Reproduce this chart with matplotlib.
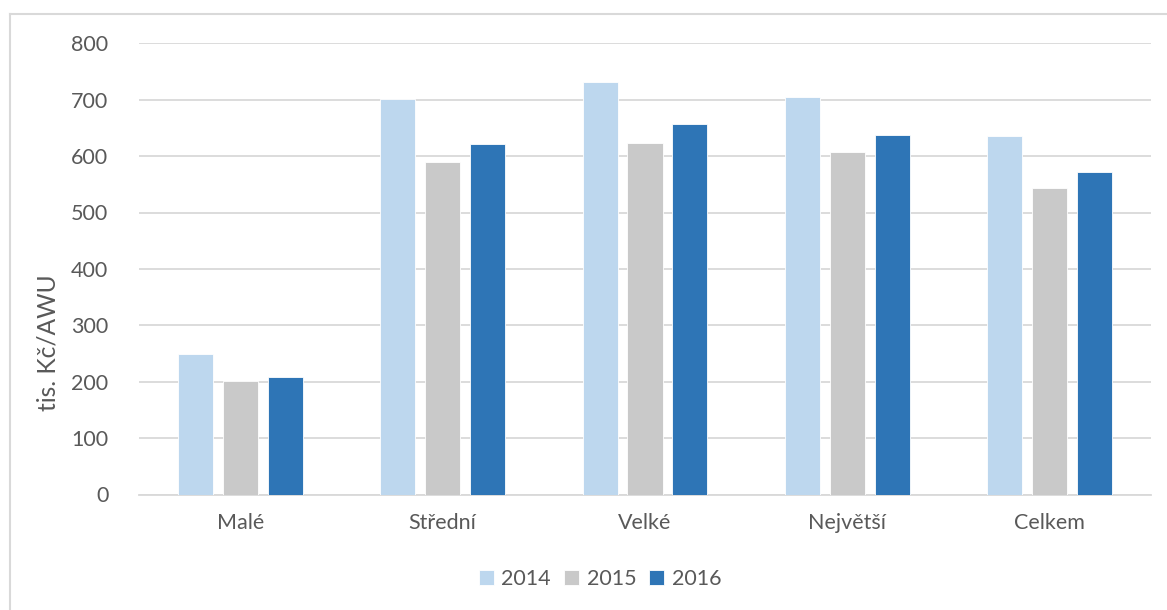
import matplotlib.pyplot as plt
import numpy as np
from matplotlib.lines import Line2D

# Labour productivity by farm size group
categories = ['Malé', 'Střední', 'Velké', 'Největší', 'Celkem']
years = ['2014', '2015', '2016']
values_2014 = [249, 702, 731, 704, 636]
values_2015 = [201, 589, 623, 607, 543]
values_2016 = [208, 621, 657, 637, 571]
series = [values_2014, values_2015, values_2016]
colors = ['#BDD7EE', '#C9C9C9', '#2E75B6']

plt.rcParams['font.family'] = ['Lato', 'DejaVu Sans']
text_color = '#595959'
grid_color = '#D9D9D9'
fs = 15.5

fig = plt.figure(figsize=(11.67, 6.10), dpi=100)
ax = fig.add_axes([139 / 1167, 1 - 494.5 / 610, 1012 / 1167, 451.2 / 610])

x = np.arange(len(categories))
bar_w = 0.173
step = 0.222
for i, (vals, col, yr) in enumerate(zip(series, colors, years)):
    ax.bar(x + (i - 1) * step, vals, width=bar_w, color=col, label=yr,
           edgecolor='white', linewidth=0.6, zorder=3)

ax.set_xlim(-0.5, len(categories) - 0.5)
ax.set_ylim(0, 800)
ax.set_yticks(range(0, 801, 100))
ax.set_xticks(x)
ax.set_xticklabels(categories)
ax.grid(axis='y', color=grid_color, linewidth=1.3, zorder=0)
ax.set_axisbelow(True)

for side in ['top', 'right', 'left']:
    ax.spines[side].set_visible(False)
ax.spines['bottom'].set_color(grid_color)
ax.spines['bottom'].set_linewidth(1.3)
ax.tick_params(axis='both', length=0, labelsize=fs, colors=text_color)
ax.tick_params(axis='y', pad=22)
ax.tick_params(axis='x', pad=13)

ax.set_ylabel('tis. Kč/AWU', fontsize=17.7, color=text_color)
ax.yaxis.set_label_coords(-0.079, 0.337)

leg = fig.legend(loc='center', bbox_to_anchor=(600 / 1167, 1 - 579 / 610), ncol=3,
                 frameon=False, fontsize=fs, handlelength=0.7, handleheight=0.7,
                 handletextpad=0.35, columnspacing=0.6)
for t in leg.get_texts():
    t.set_color(text_color)

# chart area frame (top and left edges)
fig.add_artist(Line2D([10 / 1167, 10 / 1167], [0, 1 - 14 / 610], transform=fig.transFigure,
                      color=grid_color, linewidth=1.5))
fig.add_artist(Line2D([10 / 1167, 1], [1 - 14 / 610, 1 - 14 / 610], transform=fig.transFigure,
                      color=grid_color, linewidth=1.5))

fig.savefig('out.png', dpi=100)
